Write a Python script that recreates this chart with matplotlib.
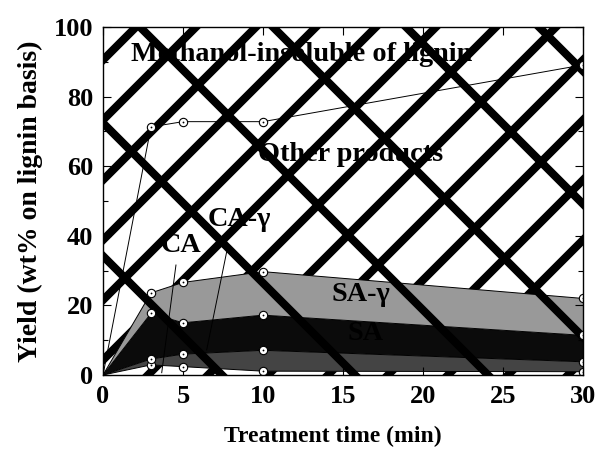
import matplotlib
matplotlib.use('Agg')
import matplotlib.pyplot as plt
import numpy as np
from matplotlib.collections import LineCollection
from matplotlib.transforms import IdentityTransform
from matplotlib.path import Path

plt.rcParams['font.family'] = ['Liberation Serif', 'DejaVu Serif']
plt.rcParams['font.weight'] = 'bold'
plt.rcParams['axes.labelweight'] = 'bold'

# ---- data (wt% on lignin basis) ----
time = [0, 3, 5, 10, 30]
ca = [0, 2.9, 2.4, 1.1, 0.95]
ca_gamma = [0, 1.7, 3.6, 6.0, 2.85]
sa = [0, 13.1, 9.0, 10.1, 7.6]
sa_gamma = [0, 5.9, 11.6, 12.5, 10.6]
other = [0, 47.7, 46.2, 43.1, 67.1]
xticks = [0, 5, 10, 15, 20, 25, 30]
yticks = [0, 20, 40, 60, 80, 100]

t = np.array(time, float)
top_ca = np.array(ca)
top_cag = top_ca + np.array(ca_gamma)
top_sa = top_cag + np.array(sa)
top_sag = top_sa + np.array(sa_gamma)
top_other = top_sag + np.array(other)

W, H = 603, 459
fig = plt.figure(figsize=(W / 100, H / 100), dpi=100)
ax = fig.add_axes([103 / W, 84 / H, 480 / W, 348 / H])
ax.set_xlim(0, 30)
ax.set_ylim(0, 100)

# filled bands
ax.fill_between(t, 0, top_ca, facecolor='white', edgecolor='none', zorder=1)
ax.fill_between(t, top_ca, top_cag, facecolor='#444444', edgecolor='none', zorder=1)
ax.fill_between(t, top_cag, top_sa, facecolor='#0b0b0b', edgecolor='none', zorder=1)
ax.fill_between(t, top_sa, top_sag, facecolor='#999999', edgecolor='none', zorder=1)

# thick cross-hatching pattern (image pixel coords, y downward)
lw_h = 5.8
back = []   # "\" lines: y_img = x + c
for c in np.arange(20 - 133 * 6, 600, 133):
    x0, x1 = 50, 650
    back.append([(x0, H - (x0 + c)), (x1, H - (x1 + c))])
fwd = []    # "/" lines: y_img = C - x
for C in np.arange(163 - 60 * 4, 1300, 60):
    x0, x1 = 50, 650
    fwd.append([(x0, H - (C - x0)), (x1, H - (C - x1))])

lc_b = LineCollection(back, colors='black', linewidths=lw_h, transform=IdentityTransform(), zorder=2)
ax.add_collection(lc_b, autolim=False)

# white regions clip path for "/" lines
upper = list(zip(t, top_sag)) + list(zip(t[::-1], [100] * len(t)))
lower = list(zip(t, [0] * len(t))) + list(zip(t[::-1], top_ca[::-1]))
clip = Path.make_compound_path(Path(upper + [upper[0]], closed=True),
                               Path(lower + [lower[0]], closed=True))
lc_f = LineCollection(fwd, colors='black', linewidths=lw_h, transform=IdentityTransform(), zorder=2)
ax.add_collection(lc_f, autolim=False)
lc_f.set_clip_path(clip, ax.transData)

# boundary lines with markers
for y in [top_ca, top_cag, top_sa, top_sag, top_other]:
    ax.plot(t, y, color='black', lw=0.7, zorder=3)
    ax.plot(t[1:], y[1:], 'o', ms=6, mfc='white', mec='black', mew=0.8, zorder=4)
    ax.plot(t[1:], y[1:], 'o', ms=1.3, mfc='black', mec='black', mew=0, zorder=5)

# labels in plot
fs_a = 20.3
ax.text(12.44, 92.2, 'Methanol-insoluble of lignin', ha='center', va='center', fontsize=fs_a, zorder=6)
ax.text(15.5, 63.5, 'Other products', ha='center', va='center', fontsize=fs_a, zorder=6)
ax.text(8.5, 44.8, 'CA-\u03b3', ha='center', va='center', fontsize=fs_a, zorder=6)
ax.text(4.9, 37.1, 'CA', ha='center', va='center', fontsize=fs_a, zorder=6)
ax.text(16.1, 23.0, 'SA-\u03b3', ha='center', va='center', fontsize=fs_a, zorder=6)
ax.text(16.4, 11.8, 'SA', ha='center', va='center', fontsize=fs_a, zorder=6)
ax.plot([4.56, 3.67], [31.6, 0.66], color='black', lw=0.7, zorder=6)
ax.plot([7.73, 6.48], [35.4, 7.2], color='black', lw=0.7, zorder=6)

# axes styling
ax.set_xticks(xticks)
ax.set_yticks(yticks)
ax.set_yticks(np.arange(10, 100, 20), minor=True)
ax.tick_params(which='both', direction='in', top=True, right=True, labelsize=19, width=0.8)
ax.tick_params(which='major', length=6, pad=7)
ax.tick_params(which='minor', length=3.5)
for sp in ax.spines.values():
    sp.set_linewidth(1.0)
    sp.set_zorder(7)
ax.set_xlabel('Treatment time (min)', fontsize=17)
ax.xaxis.set_label_coords(0.479, -0.145)
ax.set_ylabel('Yield (wt% on lignin basis)', fontsize=20)
ax.yaxis.set_label_coords(-0.125, 0.5)

fig.savefig('out.png', dpi=100)
